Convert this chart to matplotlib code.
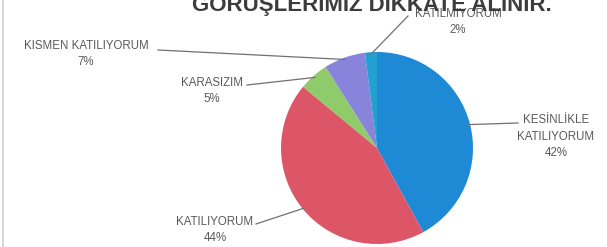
import numpy as np
import matplotlib.pyplot as plt

# data
labels = ["KESİNLİKLE\nKATILIYORUM", "KATILIYORUM", "KARASIZIM", "KISMEN KATILIYORUM", "KATILMIYORUM"]
shares = [42, 44, 5, 7, 2]
colors = ["#1e8ad6", "#dc5668", "#8fcb6a", "#8884dc", "#22a0cf"]
title = "GÖRÜŞLERİMİZ DİKKATE ALINIR."

# layout (pixel coords, y from top)
W, H = 607, 247
center = (377, 148)
radius = 96
text_pos = [(556, 137), (215, 230), (212, 91), (86, 54), (458, 22)]
line_end = [(518, 123), (256, 224), (247, 85), (158, 50), (408, 16)]

fig = plt.figure(figsize=(W / 100, H / 100), dpi=100)
ax = fig.add_axes([0, 0, 1, 1])

def fy(y):
    return H - y

wedges, _ = ax.pie(shares, colors=colors, startangle=90, counterclock=False,
                   center=(center[0], fy(center[1])), radius=radius,
                   wedgeprops=dict(linewidth=0))

# pie() resets limits, so set them afterwards
ax.set_xlim(0, W)
ax.set_ylim(0, H)
ax.set_aspect("equal")
ax.axis("off")

for w, lab, pct, tp, le in zip(wedges, labels, shares, text_pos, line_end):
    mid = np.deg2rad((w.theta1 + w.theta2) / 2)
    ex = center[0] + radius * 0.98 * np.cos(mid)
    ey = fy(center[1]) + radius * 0.98 * np.sin(mid)
    ax.plot([le[0], ex], [fy(le[1]), ey], color="#707070", lw=0.9)
    ax.text(tp[0], fy(tp[1]), f"{lab}\n{pct}%", ha="center", va="center",
            fontsize=8.3, family="Liberation Sans", color="#5a5a5a", linespacing=1.5)

ax.text(372, fy(11), title, ha="center", va="baseline", fontsize=16,
        fontweight="bold", family="Liberation Sans", color="#3c3c3c")

ax.plot([3, 3], [0, H], color="#cfcfcf", lw=1.2)

fig.savefig("out.png", dpi=100)
